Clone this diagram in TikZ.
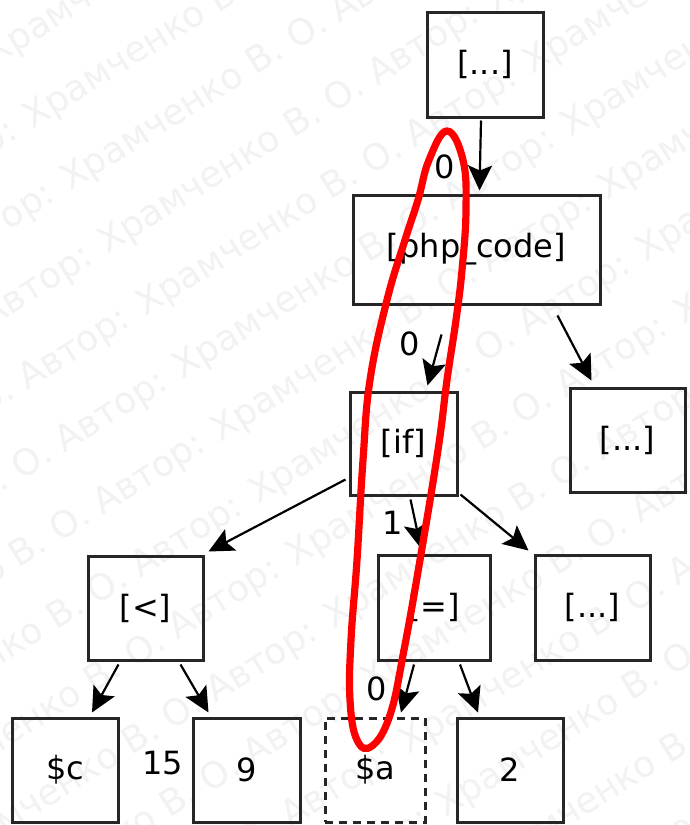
\documentclass[tikz,border=0pt]{standalone}
\usepackage{fontspec}
\setmainfont{DejaVu Sans}
\usetikzlibrary{arrows.meta,calc}

\begin{document}
\begin{tikzpicture}[x=0.5pt,y=-0.5pt,
  box/.style={draw=black!85, line width=1.5pt, inner sep=0pt,
    font=\fontsize{16}{16}\selectfont},
  arr/.style={-{Stealth[length=12.5pt,width=12pt,inset=2.5pt]}, line width=1.1pt},
  lbl/.style={inner sep=0pt, font=\fontsize{16}{16}\selectfont},
  wm/.style={text=black!5, inner sep=0pt, anchor=base west, rotate=32,
    font=\fontsize{18}{18}\selectfont},
  loop/.style={draw=red, line width=3.6pt}]

\useasboundingbox (0,0) rectangle (690,825);
\fill[white] (0,0) rectangle (690,825);

% faint diagonal author watermark
\begin{scope}
  \clip (0,0) rectangle (690,825);
  \foreach \k in {-3,...,14} {
    \pgfmathsetmacro{\nn}{135.5+73*\k}
    \node[wm] (wm\k) at ({-496*0.857+\nn*0.515},{496*0.515+\nn*0.857})
      {Храмченко В. О. Автор: Храмченко В. О. Автор: Храмченко В. О. Автор: Храмченко В. О.};
  }
\end{scope}

% tree nodes
\node[box, minimum width=58pt,   minimum height=52.5pt] (top) at (485,64.5)   {[...]};
\node[box, minimum width=123.5pt,minimum height=54.5pt] (php) at (476.5,249.5) {[php\_code]};
\node[box, minimum width=53.5pt, minimum height=51.5pt] (if)  at (403.5,443.5) {[if]};
\node[box, minimum width=57.5pt, minimum height=52pt]   (r1)  at (627.5,440)   {[...]};
\node[box, minimum width=57.5pt, minimum height=52pt]   (lt)  at (145.5,608)   {[<]};
\node[box, minimum width=56pt,   minimum height=52.5pt] (eq)  at (434,607.5)   {[=]};
\node[box, minimum width=57.5pt, minimum height=52.5pt] (r2)  at (592.5,607.5) {[...]};
\node[box, minimum width=53pt,   minimum height=52pt]   (c)   at (65,770)      {\$c};
\node[box, minimum width=53.5pt, minimum height=52pt]   (nine) at (246.5,770)  {9};
\node[box, dash pattern=on 4pt off 3pt, minimum width=50pt, minimum height=52pt] (a) at (375,770) {\$a};
\node[box, minimum width=53pt,   minimum height=52pt]   (two) at (510,770)     {2};

% connectors
\draw[arr] ($(top.south)+(-4,2)$)      -- ($(php.north)+(3,-3)$);
\draw[arr] ($(php.south)+(-35,29)$)    -- ($(if.north)+(24,-5)$);
\draw[arr] ($(php.south east)+(-44,10)$) -- ($(r1.north west)+(23,-6)$);
\draw[arr] ($(if.south west)+(-3,-17)$) -- ($(lt.north east)+(4,-3)$);
\draw[arr] ($(if.south)+(7,3)$)        -- ($(eq.north)+(-13,-5)$);
\draw[arr] ($(if.south east)+(2,-2)$)  -- ($(r2.north west)+(-5,-3)$);
\draw[arr] ($(lt.south)+(-27,3)$)      -- ($(c.north)+(27,-4)$);
\draw[arr] ($(lt.south)+(35,3)$)       -- ($(nine.north)+(-38,-4)$);
\draw[arr] ($(eq.south)+(-20,3)$)      -- ($(a.north)+(26,-4)$);
\draw[arr] ($(eq.south)+(26,3)$)       -- ($(two.north)+(-32,-4)$);

% edge labels
\node[lbl] (n0a) at (445,167) {0};
\node[lbl] (n0b) at (410,344) {0};
\node[lbl] (n1)  at (393,523) {1};
\node[lbl] (n15) at (163,763) {15};
\node[lbl] (n0c) at (377,689) {0};

% red hand-drawn loop
\draw[loop] plot[smooth cycle, tension=0.7] coordinates {
  (447,131) (463,160) (466,210) (462,270) (456,320) (447,380) (438,450)
  (420,560) (404,650) (390,715) (372,746) (357,740) (350,700) (351,640)
  (357,560) (363,460) (370,380) (387,300) (405,240) (418,200) (429,160)};
\end{tikzpicture}
\end{document}
